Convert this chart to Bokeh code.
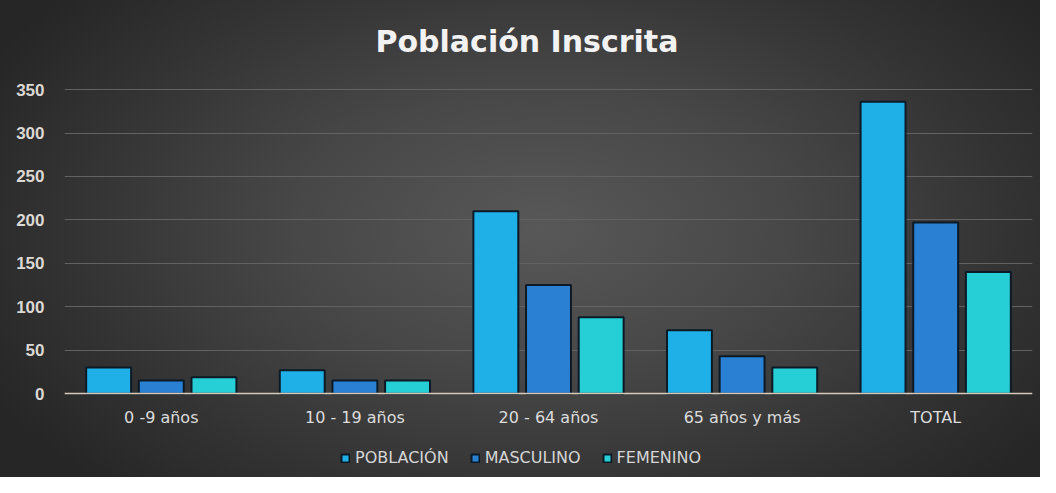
from bokeh.plotting import figure
from bokeh.models import (ColumnDataSource, Legend, LegendItem, FixedTicker, Range1d)
from bokeh.transform import dodge
from bokeh.embed import file_html
from bokeh.resources import INLINE

categories = ["0 -9 años", "10 - 19 años", "20 - 64 años", "65 años y más", "TOTAL"]
poblacion = [30, 27, 210, 73, 336]
masculino = [15, 15, 125, 43, 197]
femenino = [19, 15, 88, 30, 140]
y_ticks = [0, 50, 100, 150, 200, 250, 300, 350]
series_names = ["POBLACIÓN", "MASCULINO", "FEMENINO"]

src = ColumnDataSource(dict(cat=categories, pob=poblacion, masc=masculino, fem=femenino))

p = figure(x_range=categories, y_range=Range1d(-85, 380), width=1040, height=477,
           output_backend="svg", toolbar_location=None,
           title="Población Inscrita",
           min_border_left=64, min_border_right=8, min_border_top=63, min_border_bottom=10)
p.background_fill_alpha = 0
p.border_fill_alpha = 0
p.outline_line_color = None
p.styles = {"background": "radial-gradient(ellipse 60% 75% at 52% 48%, #585858 0%, #474747 40%, #333333 75%, #262626 100%)"}

p.title.align = "left"
p.title.offset = 311
p.title.text_font = "DejaVu Sans"
p.title.text_font_style = "bold"
p.title.text_font_size = "30px"
p.title.text_color = "#f2f2f2"

colors = ["#1fb0e8", "#2a80d2", "#26cfd6"]
fields = ["pob", "masc", "fem"]
offsets = [-0.272, 0.0, 0.272]
renderers = []
for f, c, o in zip(fields, colors, offsets):
    r = p.vbar(x=dodge("cat", o, range=p.x_range), top=f, width=0.232, source=src,
               fill_color=c, line_color="#0b1a26", line_width=2)
    renderers.append(r)

# axes
p.yaxis.ticker = FixedTicker(ticks=y_ticks)
p.yaxis.axis_line_color = None
p.yaxis.major_tick_line_color = None
p.yaxis.minor_tick_line_color = None
p.yaxis.major_label_text_color = "#dcd8d4"
p.yaxis.major_label_text_font = "Liberation Sans"
p.yaxis.major_label_text_font_style = "bold"
p.yaxis.major_label_text_font_size = "17px"
p.yaxis.major_label_standoff = 14

p.xaxis.fixed_location = 0
p.xaxis.axis_line_color = "#d6c9bc"
p.xaxis.axis_line_width = 1.5
p.xaxis.major_tick_line_color = None
p.xaxis.minor_tick_line_color = None
p.xaxis.major_label_text_color = "#dcdcdc"
p.xaxis.major_label_text_font = "DejaVu Sans"
p.xaxis.major_label_text_font_size = "16px"
p.xaxis.major_label_standoff = 8

p.xgrid.grid_line_color = None
p.ygrid.grid_line_color = "#626262"
p.ygrid.grid_line_width = 1

legend = Legend(items=[LegendItem(label=n, renderers=[r]) for n, r in zip(series_names, renderers)],
                orientation="horizontal", location=(276, 0),
                background_fill_alpha=0, border_line_color=None,
                label_text_color="#d6d6d6", label_text_font="DejaVu Sans",
                label_text_font_size="16px", glyph_width=10, glyph_height=10,
                spacing=21, label_standoff=5, padding=0, margin=0)
p.add_layout(legend)

open("out.html", "w").write(file_html(p, INLINE))
